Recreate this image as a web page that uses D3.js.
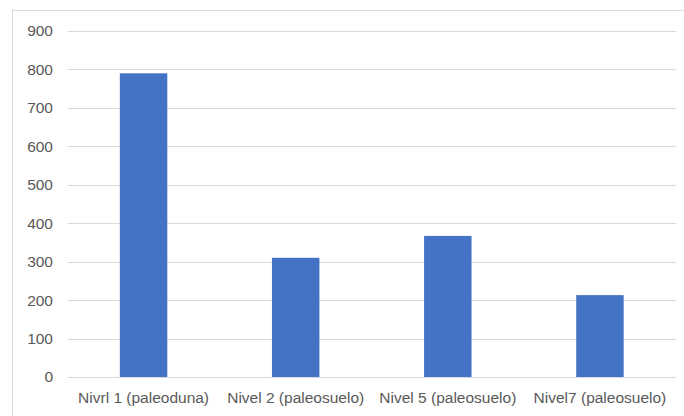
<!DOCTYPE html>
<html>
<head>
<meta charset="utf-8">
<script src="https://cdn.jsdelivr.net/npm/d3@7"></script>
<style>
  html, body { margin: 0; padding: 0; background: #fff; }
  svg { display: block; }
  text { font-family: "Liberation Sans", Arial, sans-serif; fill: #595959; }
</style>
</head>
<body>
<svg id="chart" width="684" height="416"></svg>
<script>
const categories = ["Nivrl 1 (paleoduna)", "Nivel 2 (paleosuelo)", "Nivel 5 (paleosuelo)", "Nivel7 (paleosuelo)"];
const values = [790, 310, 367, 213];
const yTicks = [0, 100, 200, 300, 400, 500, 600, 700, 800, 900];

const svg = d3.select("#chart");

// chart frame (clipped at right/bottom like the reference)
svg.append("rect")
  .attr("x", 12.5).attr("y", 10.5)
  .attr("width", 700).attr("height", 440)
  .attr("fill", "none").attr("stroke", "#d9d9d9").attr("stroke-width", 1);

const x = d3.scaleBand().domain(categories).range([67.5, 676]).padding(0);
const y = d3.scaleLinear().domain([0, 900]).range([377, 31]);

// gridlines
svg.append("g")
  .selectAll("line")
  .data(yTicks)
  .join("line")
  .attr("x1", 67.5).attr("x2", 676)
  .attr("y1", d => Math.round(y(d)) + 0.5)
  .attr("y2", d => Math.round(y(d)) + 0.5)
  .attr("stroke", "#d9d9d9").attr("stroke-width", 1);

// y axis labels
const yAxis = d3.axisLeft(y).tickValues(yTicks).tickSize(0).tickPadding(0);
const gy = svg.append("g").attr("transform", "translate(53,0)").call(yAxis);
gy.select(".domain").remove();
gy.selectAll("text")
  .attr("font-size", 15.5)
  .style("font-family", "'Liberation Sans', Arial, sans-serif")
  .attr("fill", "#595959");

// bars
const barW = x.bandwidth() * 0.312;
svg.append("g")
  .selectAll("rect")
  .data(values)
  .join("rect")
  .attr("x", (d, i) => x(categories[i]) + (x.bandwidth() - barW) / 2)
  .attr("width", barW)
  .attr("y", d => y(d))
  .attr("height", d => y(0) - y(d))
  .attr("fill", "#4472c4");

// x axis labels
const xAxis = d3.axisBottom(x).tickSize(0).tickPadding(0);
const gx = svg.append("g").attr("transform", "translate(0,392)").call(xAxis);
gx.select(".domain").remove();
gx.selectAll("text")
  .attr("font-size", 15.5)
  .style("font-family", "'Liberation Sans', Arial, sans-serif")
  .attr("fill", "#595959");
</script>
</body>
</html>
